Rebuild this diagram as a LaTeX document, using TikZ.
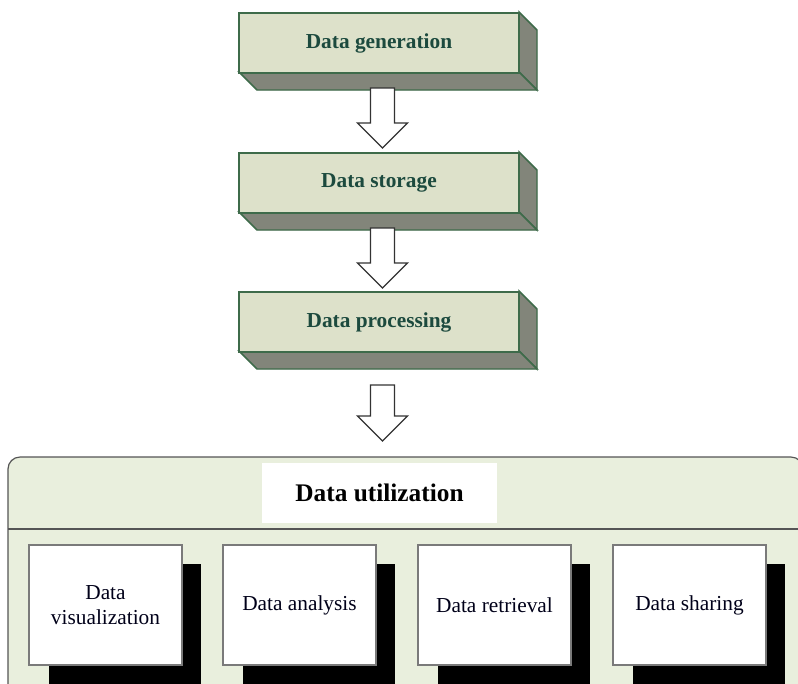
\documentclass[tikz,border=0pt]{standalone}
\usepackage{fontspec}
\setmainfont{Liberation Serif}
\usetikzlibrary{calc}

\definecolor{slabface}{HTML}{DDE1CA}
\definecolor{slabside}{HTML}{82857A}
\definecolor{slabedge}{HTML}{3E6B4A}
\definecolor{slabtext}{HTML}{1C4A3E}
\definecolor{panelfill}{HTML}{E9EFDD}
\definecolor{paneledge}{HTML}{555555}
\definecolor{cardedge}{HTML}{7A7A7A}

\tikzset{
  slab/.style={draw=slabedge, line width=1.1pt, fill=slabface,
    minimum width=280*0.75pt, minimum height=60*0.75pt, inner sep=0pt,
    font=\fontsize{16}{18}\selectfont\bfseries, text=slabtext},
  slabdepth/.style={draw=slabedge, line width=1.1pt, fill=slabside, line join=miter},
  blockarrow/.style={draw=black!80, line width=1pt, fill=white, line join=miter},
  card/.style={draw=cardedge, line width=0.9pt, fill=white,
    minimum width=153*0.75pt, minimum height=120*0.75pt, inner sep=0pt,
    align=center, font=\fontsize{16}{19}\selectfont, text=black!90!blue},
  cardshadow/.style={fill=black},
  titlebox/.style={fill=white, minimum width=235*0.75pt, minimum height=60*0.75pt,
    inner sep=0pt, font=\fontsize{19}{21}\selectfont\bfseries}
}

% hollow block arrow along a vertical axis: (axis point, top y, tip y)
\newcommand{\hollowarrow}[3]{%
  \draw[blockarrow] ($(#1)+(-12,#2)$) -- ($(#1)+(12,#2)$) -- ($(#1)+(12,#3-25)$)
    -- ($(#1)+(25,#3-25)$) -- ($(#1)+(0,#3)$) -- ($(#1)+(-25,#3-25)$)
    -- ($(#1)+(-12,#3-25)$) -- cycle;}

\begin{document}
\begin{tikzpicture}[x=0.75pt, y=-0.75pt]
\useasboundingbox (0,0) rectangle (798,683);

% three extruded slabs of the pipeline
\foreach \nm/\yy/\txt in {gen/12/Data generation, sto/152/Data storage, pro/291/Data processing}{
  \fill[slabside] (519,\yy) -- (537,\yy+18) -- (537,\yy+78) -- (257,\yy+78) -- (239,\yy+60) -- cycle;
  \draw[slabdepth] (519,\yy) -- (537,\yy+18) -- (537,\yy+78) -- (519,\yy+60) -- cycle;
  \draw[slabdepth] (239,\yy+60) -- (519,\yy+60) -- (537,\yy+78) -- (257,\yy+78) -- cycle;
  \node[slab] (\nm) at (379,\yy+31) {\txt};
}

% utilization panel
\draw[paneledge, line width=0.9pt, fill=panelfill, rounded corners=12*0.75pt]
  (8,700) -- (8,457) -- (803,457) -- (803,700);
\coordinate (divL) at (8,529);
\coordinate (divR) at (798,529);
\draw[paneledge, line width=0.9pt] (divL) -- (divR);
\node[titlebox] (util) at (379.5,493) {Data utilization};

% hollow block arrows between stages
\coordinate (axis) at (382.5,0);
\hollowarrow{axis}{88}{148}
\hollowarrow{axis}{228}{288}
\hollowarrow{axis}{385}{441}

% four cards with drop shadows
\foreach \nm/\xx/\txt in {vis/29/{Data\\visualization}, ana/223/Data analysis, ret/418/Data retrieval, sha/613/Data sharing}{
  \fill[cardshadow] (\xx+20,564) rectangle (\xx+172,700);
  \node[card] (\nm) at (\xx+76.5,605) {\txt};
}
\end{tikzpicture}
\end{document}
